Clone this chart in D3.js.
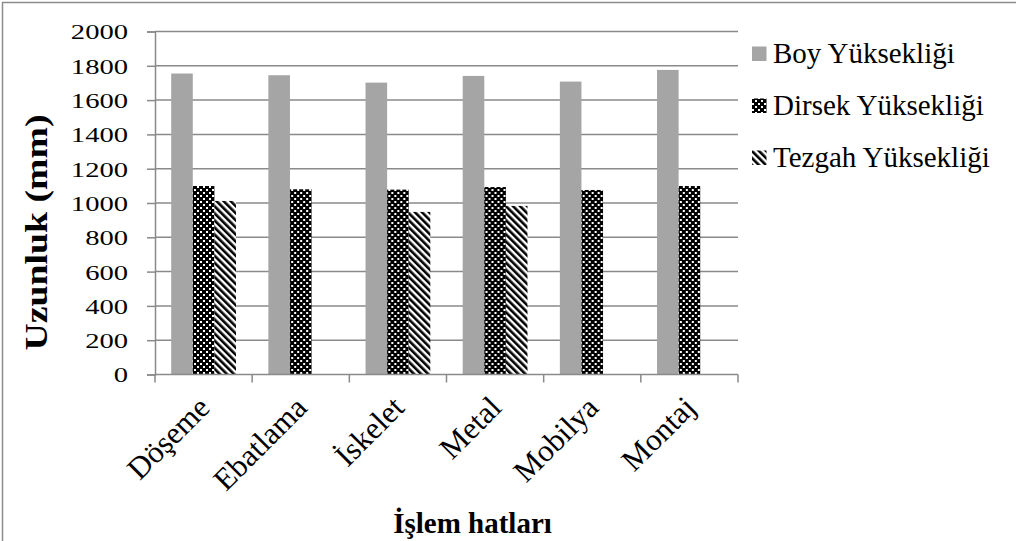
<!DOCTYPE html>
<html>
<head>
<meta charset="utf-8">
<script src="https://cdn.jsdelivr.net/npm/d3@7"></script>
<style>
  html, body { margin: 0; padding: 0; background: #fff; }
  svg { display: block; }
</style>
</head>
<body>
<svg id="chart" width="1016" height="541"></svg>
<script>
// Production lines (categories) and measured heights in mm
const categories = ["Döşeme", "Ebatlama", "İskelet", "Metal", "Mobilya", "Montaj"];
const seriesNames = ["Boy Yüksekliği", "Dirsek Yüksekliği", "Tezgah Yüksekliği"];
const boyValues = [1755, 1745, 1702, 1741, 1708, 1776];
const dirsekValues = [1099, 1080, 1078, 1093, 1076, 1099];
const tezgahValues = [1012, null, 948, 983, null, null];
const yTicks = [0, 200, 400, 600, 800, 1000, 1200, 1400, 1600, 1800, 2000];

const serif = "'Liberation Serif', 'Times New Roman', Times, serif";

const svg = d3.select("#chart");
svg.append("rect").attr("width", 1016).attr("height", 541).attr("fill", "#fff");

const defs = svg.append("defs");

// Dense checker pattern for the elbow-height series
const chk = defs.append("pattern")
  .attr("id", "pat-dirsek").attr("patternUnits", "userSpaceOnUse")
  .attr("width", 6).attr("height", 6);
chk.append("rect").attr("width", 6).attr("height", 6).attr("fill", "#000");
[[0, 0, 2, 2], [3, 3, 2, 2]].forEach(([x, yy, w, h]) =>
  chk.append("rect").attr("x", x).attr("y", yy).attr("width", w).attr("height", h).attr("fill", "#fff"));

// Wide diagonal stripes for the bench-height series
const str = defs.append("pattern")
  .attr("id", "pat-tezgah").attr("patternUnits", "userSpaceOnUse")
  .attr("width", 5).attr("height", 5)
  .attr("patternTransform", "rotate(-45)");
str.append("rect").attr("width", 5).attr("height", 5).attr("fill", "#fff");
str.append("rect").attr("width", 2.6).attr("height", 5).attr("fill", "#000");

const fills = ["#a5a5a5", "url(#pat-dirsek)", "url(#pat-tezgah)"];
const seriesValues = [boyValues, dirsekValues, tezgahValues];

const gridColor = "#8a8a8a";

// Chart frame
svg.append("path")
  .attr("d", "M2.5,541 V2.5 H1016")
  .attr("fill", "none").attr("stroke", "#8c8c8c").attr("stroke-width", 1.5);

const plot = { left: 155, right: 738, top: 31.5, bottom: 374.5 };

const x = d3.scaleBand().domain(categories).range([plot.left, plot.right]).paddingInner(0).paddingOuter(0);
const x1 = d3.scaleBand().domain(seriesNames).range([0, x.bandwidth()]).paddingInner(0).paddingOuter(0.75);
const y = d3.scaleLinear().domain([0, 2000]).range([plot.bottom, plot.top]);

// Horizontal gridlines
svg.append("g").selectAll("line")
  .data(yTicks.filter(t => t > 0))
  .join("line")
  .attr("x1", plot.left).attr("x2", plot.right)
  .attr("y1", d => y(d)).attr("y2", d => y(d))
  .attr("stroke", gridColor).attr("stroke-width", 1.5);

// Bars
const groups = svg.append("g").selectAll("g")
  .data(categories)
  .join("g")
  .attr("transform", d => `translate(${x(d)},0)`);

groups.selectAll("rect")
  .data((c, i) => seriesNames.map((s, k) => ({ s, k, v: seriesValues[k][i] })).filter(d => d.v != null))
  .join("rect")
  .attr("x", d => x1(d.s))
  .attr("width", x1.bandwidth())
  .attr("y", d => y(d.v))
  .attr("height", d => y(0) - y(d.v))
  .attr("fill", d => fills[d.k]);

// Y axis
const yAxis = svg.append("g")
  .attr("transform", `translate(${plot.left},0)`)
  .call(d3.axisLeft(y).tickValues(yTicks).tickSize(8).tickFormat(d3.format("d")));
yAxis.attr("font-family", null).attr("font-size", null);
yAxis.select(".domain").attr("stroke", gridColor).attr("stroke-width", 1.5);
yAxis.selectAll(".tick line").attr("stroke", gridColor).attr("stroke-width", 1.5);
yAxis.selectAll(".tick text")
  .style("font-family", serif)
  .style("font-size", "22px")
  .attr("fill", "#000")
  .attr("x", -27 / 1.3)
  .attr("dy", "0.34em")
  .attr("transform", "scale(1.3,1)");

// X axis line with ticks on category boundaries
const xAxis = svg.append("g");
xAxis.append("line")
  .attr("x1", plot.left).attr("x2", plot.right)
  .attr("y1", y(0)).attr("y2", y(0))
  .attr("stroke", gridColor).attr("stroke-width", 1.5);
const bounds = [plot.left].concat(categories.map(c => x(c) + x.bandwidth()));
xAxis.selectAll("line.tk")
  .data(bounds)
  .join("line").attr("class", "tk")
  .attr("x1", d => d).attr("x2", d => d)
  .attr("y1", y(0)).attr("y2", y(0) + 8)
  .attr("stroke", gridColor).attr("stroke-width", 1.5);

// Rotated category labels
xAxis.selectAll("text")
  .data(categories)
  .join("text")
  .attr("transform", d => `translate(${x(d) + x.bandwidth() / 2 + 8},${y(0) + 35}) rotate(-45)`)
  .attr("text-anchor", "end")
  .style("font-family", serif)
  .style("font-size", "31px")
  .text(d => d);

// Axis titles
svg.append("text")
  .attr("transform", "translate(47,232.5) rotate(-90) scale(1.18,1)")
  .attr("text-anchor", "middle")
  .style("font-family", serif)
  .style("font-size", "32px")
  .style("font-weight", "bold")
  .text("Uzunluk (mm)");

svg.append("text")
  .attr("x", 472.5).attr("y", 533)
  .attr("text-anchor", "middle")
  .style("font-family", serif)
  .style("font-size", "29px")
  .style("font-weight", "bold")
  .text("İşlem hatları");

// Legend
const legend = svg.append("g").selectAll("g")
  .data(seriesNames)
  .join("g")
  .attr("transform", (d, i) => `translate(752,${63 + i * 52})`);
legend.append("rect")
  .attr("x", 0).attr("y", -16.5)
  .attr("width", 14.5).attr("height", 14.5)
  .attr("fill", (d, i) => fills[i]);
legend.append("text")
  .attr("x", 21).attr("y", 0)
  .style("font-family", serif)
  .style("font-size", "29px")
  .text(d => d);
</script>
</body>
</html>
